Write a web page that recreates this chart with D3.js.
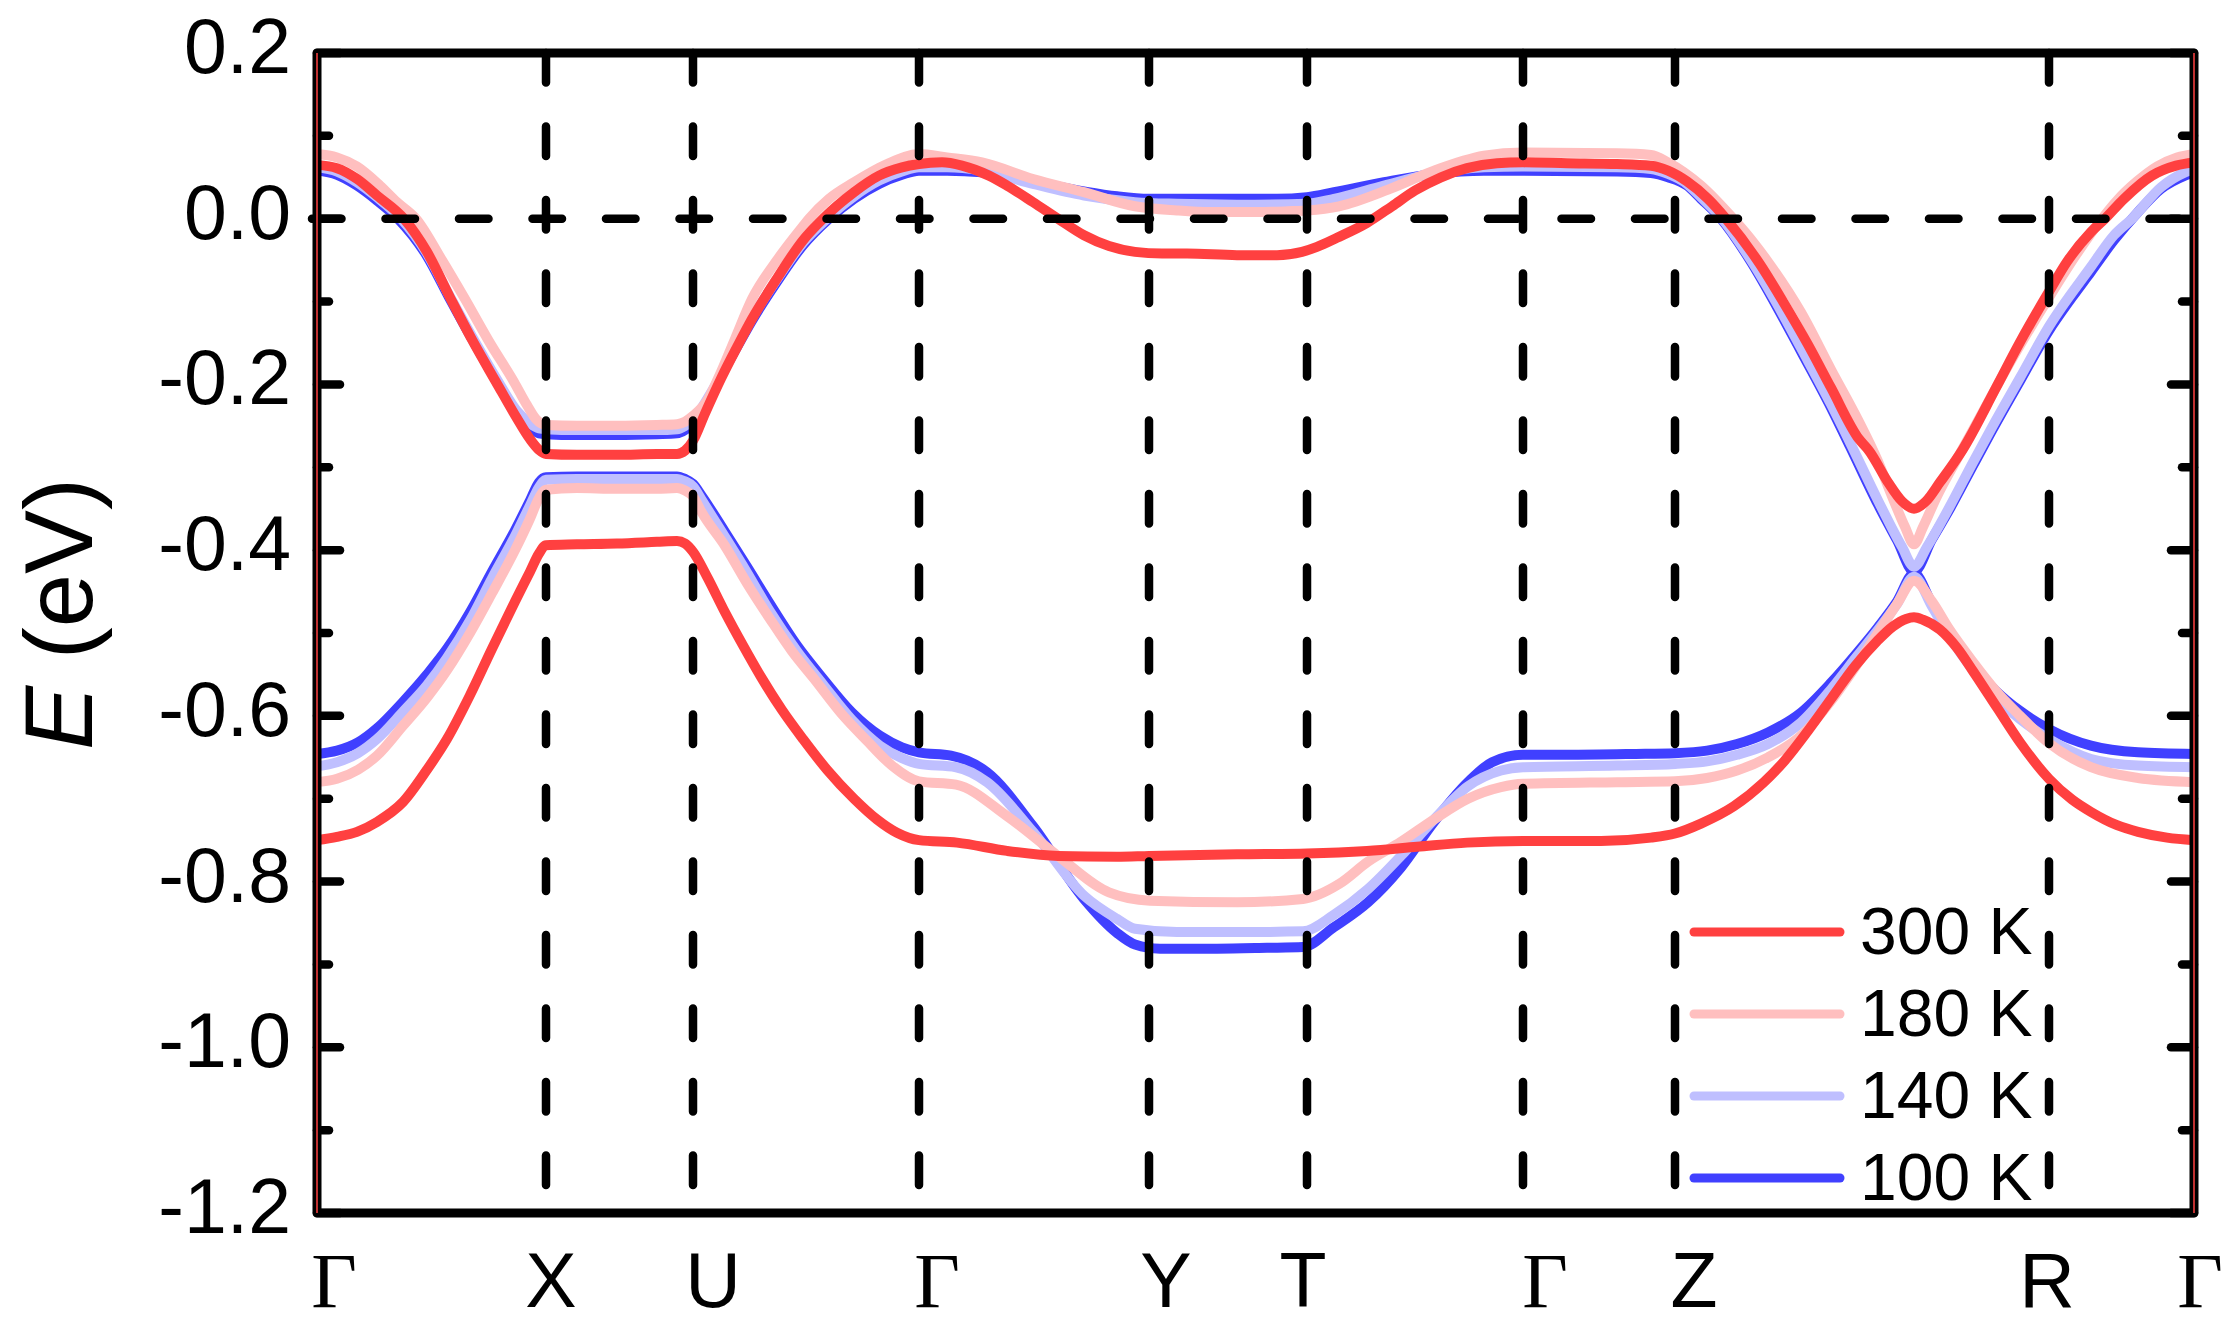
<!DOCTYPE html>
<html><head><meta charset="utf-8">
<script src="https://cdn.jsdelivr.net/npm/d3@7"></script>
<style>html,body{margin:0;padding:0;background:#fff}svg{display:block}</style>
</head><body>
<svg id="chart" width="2239" height="1340"></svg>
<script>
// ---------------- data ----------------
const kPoints = [0, 0.229, 0.376, 0.602, 0.832, 0.990, 1.206, 1.358, 1.732, 1.877];
const kLabels = ["Γ", "X", "U", "Γ", "Y", "T", "Γ", "Z", "R", "Γ"];
const yTicks = [0.2, 0.0, -0.2, -0.4, -0.6, -0.8, -1.0, -1.2];
const yTickLabels = ["0.2", "0.0", "-0.2", "-0.4", "-0.6", "-0.8", "-1.0", "-1.2"];
const yMinorTicks = [0.1, -0.1, -0.3, -0.5, -0.7, -0.9, -1.1];
const seriesNames = ["300 K", "180 K", "140 K", "100 K"];

// [k, E (eV)] – 300 K
const upper300 = [[0,0.065],[0.02,0.061],[0.04,0.048],[0.06,0.028],[0.087,0.0],[0.11,-0.040],[0.133,-0.095],[0.155,-0.146],[0.179,-0.197],[0.20,-0.241],[0.213,-0.266],[0.222,-0.279],[0.229,-0.284],[0.26,-0.285],[0.30,-0.285],[0.34,-0.284],[0.36,-0.284],[0.368,-0.280],[0.376,-0.268],[0.388,-0.235],[0.404,-0.193],[0.42,-0.155],[0.435,-0.121],[0.46,-0.072],[0.486,-0.026],[0.506,0.0],[0.537,0.032],[0.562,0.052],[0.585,0.062],[0.602,0.066],[0.625,0.068],[0.645,0.064],[0.672,0.052],[0.69,0.040],[0.716,0.020],[0.741,0.0],[0.767,-0.020],[0.792,-0.033],[0.818,-0.040],[0.845,-0.042],[0.87,-0.042],[0.92,-0.044],[0.96,-0.044],[0.985,-0.040],[1.0,-0.034],[1.02,-0.023],[1.05,-0.005],[1.075,0.015],[1.098,0.034],[1.124,0.050],[1.15,0.061],[1.18,0.067],[1.206,0.068],[1.25,0.067],[1.30,0.066],[1.334,0.064],[1.351,0.058],[1.37,0.045],[1.391,0.024],[1.409,0.0],[1.443,-0.055],[1.467,-0.102],[1.491,-0.152],[1.514,-0.204],[1.542,-0.266],[1.552,-0.280],[1.571,-0.318],[1.585,-0.341],[1.597,-0.350],[1.609,-0.341],[1.623,-0.318],[1.646,-0.278],[1.679,-0.204],[1.703,-0.149],[1.732,-0.088],[1.75,-0.052],[1.774,-0.016],[1.788,0.0],[1.807,0.024],[1.835,0.052],[1.859,0.064],[1.877,0.068]];
const lower300 = [[0,-0.750],[0.02,-0.746],[0.04,-0.740],[0.06,-0.728],[0.086,-0.704],[0.11,-0.665],[0.13,-0.628],[0.153,-0.575],[0.175,-0.519],[0.198,-0.462],[0.213,-0.426],[0.222,-0.404],[0.229,-0.394],[0.26,-0.393],[0.30,-0.392],[0.34,-0.390],[0.36,-0.389],[0.368,-0.392],[0.376,-0.402],[0.39,-0.432],[0.408,-0.475],[0.426,-0.515],[0.444,-0.553],[0.465,-0.593],[0.486,-0.628],[0.51,-0.665],[0.537,-0.700],[0.56,-0.725],[0.58,-0.741],[0.602,-0.750],[0.64,-0.753],[0.69,-0.763],[0.741,-0.769],[0.80,-0.770],[0.832,-0.769],[0.92,-0.767],[0.99,-0.766],[1.05,-0.763],[1.10,-0.758],[1.15,-0.753],[1.206,-0.751],[1.284,-0.751],[1.334,-0.747],[1.358,-0.742],[1.384,-0.730],[1.417,-0.709],[1.447,-0.680],[1.467,-0.655],[1.491,-0.618],[1.515,-0.578],[1.538,-0.540],[1.56,-0.510],[1.576,-0.492],[1.589,-0.483],[1.597,-0.481],[1.606,-0.484],[1.623,-0.496],[1.64,-0.518],[1.656,-0.546],[1.68,-0.590],[1.703,-0.632],[1.732,-0.676],[1.755,-0.701],[1.774,-0.716],[1.80,-0.732],[1.821,-0.740],[1.85,-0.747],[1.877,-0.750]];

// 180 K
const upper180 = [[0,0.078],[0.02,0.074],[0.04,0.063],[0.063,0.040],[0.08,0.020],[0.099,0.0],[0.125,-0.050],[0.148,-0.097],[0.172,-0.148],[0.197,-0.197],[0.21,-0.225],[0.219,-0.242],[0.229,-0.249],[0.26,-0.250],[0.30,-0.250],[0.34,-0.249],[0.36,-0.248],[0.368,-0.245],[0.376,-0.238],[0.39,-0.220],[0.401,-0.193],[0.418,-0.145],[0.435,-0.097],[0.46,-0.050],[0.486,-0.009],[0.492,0.0],[0.512,0.024],[0.537,0.044],[0.57,0.066],[0.602,0.078],[0.63,0.074],[0.665,0.068],[0.716,0.048],[0.767,0.032],[0.818,0.015],[0.86,0.010],[0.894,0.008],[0.94,0.008],[0.971,0.009],[0.99,0.010],[1.022,0.015],[1.073,0.036],[1.117,0.058],[1.167,0.076],[1.206,0.080],[1.30,0.079],[1.334,0.077],[1.351,0.068],[1.384,0.040],[1.414,0.003],[1.434,-0.025],[1.451,-0.052],[1.484,-0.113],[1.514,-0.182],[1.542,-0.245],[1.56,-0.290],[1.575,-0.335],[1.588,-0.372],[1.597,-0.393],[1.606,-0.372],[1.62,-0.335],[1.64,-0.290],[1.665,-0.235],[1.69,-0.180],[1.732,-0.095],[1.76,-0.042],[1.785,0.0],[1.80,0.022],[1.82,0.045],[1.84,0.063],[1.86,0.074],[1.877,0.078]];
const lower180 = [[0,-0.680],[0.02,-0.676],[0.041,-0.665],[0.06,-0.648],[0.086,-0.612],[0.11,-0.578],[0.13,-0.545],[0.153,-0.500],[0.175,-0.452],[0.198,-0.400],[0.213,-0.362],[0.222,-0.337],[0.229,-0.327],[0.26,-0.325],[0.30,-0.326],[0.34,-0.326],[0.36,-0.325],[0.368,-0.328],[0.376,-0.335],[0.385,-0.355],[0.408,-0.395],[0.43,-0.440],[0.453,-0.483],[0.475,-0.522],[0.497,-0.555],[0.525,-0.598],[0.55,-0.630],[0.575,-0.660],[0.602,-0.679],[0.639,-0.683],[0.69,-0.721],[0.741,-0.769],[0.792,-0.813],[0.833,-0.823],[0.92,-0.825],[0.986,-0.821],[1.022,-0.803],[1.051,-0.776],[1.084,-0.752],[1.117,-0.725],[1.151,-0.700],[1.184,-0.686],[1.206,-0.682],[1.30,-0.680],[1.358,-0.679],[1.39,-0.675],[1.42,-0.666],[1.451,-0.650],[1.484,-0.624],[1.514,-0.582],[1.54,-0.538],[1.561,-0.500],[1.58,-0.465],[1.597,-0.437],[1.615,-0.462],[1.632,-0.495],[1.656,-0.535],[1.679,-0.570],[1.703,-0.600],[1.732,-0.633],[1.774,-0.662],[1.821,-0.675],[1.877,-0.680]];

// 140 K
const upper140 = [[0,0.062],[0.02,0.057],[0.04,0.044],[0.06,0.026],[0.084,0.0],[0.11,-0.042],[0.133,-0.094],[0.155,-0.142],[0.179,-0.192],[0.20,-0.232],[0.213,-0.247],[0.222,-0.253],[0.229,-0.254],[0.26,-0.255],[0.30,-0.255],[0.34,-0.255],[0.36,-0.254],[0.368,-0.250],[0.376,-0.243],[0.388,-0.222],[0.404,-0.189],[0.42,-0.153],[0.435,-0.120],[0.46,-0.073],[0.486,-0.029],[0.51,0.0],[0.537,0.027],[0.562,0.046],[0.585,0.057],[0.602,0.062],[0.63,0.062],[0.665,0.058],[0.716,0.042],[0.767,0.028],[0.818,0.020],[0.86,0.018],[0.92,0.017],[0.99,0.018],[1.017,0.024],[1.067,0.040],[1.117,0.055],[1.167,0.062],[1.206,0.063],[1.30,0.062],[1.334,0.060],[1.351,0.054],[1.37,0.042],[1.384,0.026],[1.405,0.0],[1.434,-0.050],[1.467,-0.118],[1.484,-0.156],[1.514,-0.224],[1.533,-0.270],[1.561,-0.340],[1.585,-0.396],[1.597,-0.420],[1.61,-0.396],[1.632,-0.349],[1.656,-0.294],[1.674,-0.254],[1.703,-0.192],[1.732,-0.130],[1.774,-0.058],[1.797,-0.020],[1.815,0.0],[1.844,0.038],[1.868,0.056],[1.877,0.060]];
const lower140 = [[0,-0.661],[0.02,-0.656],[0.041,-0.645],[0.06,-0.628],[0.086,-0.595],[0.11,-0.563],[0.13,-0.530],[0.153,-0.485],[0.175,-0.434],[0.198,-0.383],[0.213,-0.346],[0.222,-0.324],[0.229,-0.315],[0.26,-0.314],[0.30,-0.314],[0.34,-0.314],[0.36,-0.314],[0.368,-0.317],[0.376,-0.323],[0.385,-0.340],[0.408,-0.384],[0.43,-0.427],[0.453,-0.474],[0.48,-0.522],[0.506,-0.562],[0.535,-0.605],[0.563,-0.636],[0.585,-0.651],[0.602,-0.658],[0.639,-0.662],[0.67,-0.680],[0.716,-0.740],[0.767,-0.817],[0.80,-0.845],[0.818,-0.857],[0.86,-0.861],[0.92,-0.861],[0.986,-0.860],[1.017,-0.840],[1.051,-0.809],[1.084,-0.769],[1.117,-0.725],[1.151,-0.685],[1.184,-0.666],[1.206,-0.662],[1.30,-0.660],[1.358,-0.658],[1.39,-0.655],[1.42,-0.647],[1.451,-0.634],[1.484,-0.608],[1.514,-0.568],[1.54,-0.528],[1.561,-0.496],[1.58,-0.465],[1.597,-0.432],[1.615,-0.468],[1.632,-0.503],[1.656,-0.545],[1.679,-0.578],[1.703,-0.604],[1.732,-0.628],[1.774,-0.652],[1.821,-0.660],[1.877,-0.662]];

// 100 K
const upper100 = [[0,0.058],[0.02,0.053],[0.04,0.040],[0.06,0.022],[0.081,0.0],[0.11,-0.045],[0.133,-0.097],[0.155,-0.145],[0.179,-0.195],[0.20,-0.236],[0.213,-0.252],[0.222,-0.259],[0.229,-0.260],[0.26,-0.261],[0.30,-0.261],[0.34,-0.260],[0.36,-0.259],[0.368,-0.255],[0.376,-0.247],[0.388,-0.225],[0.404,-0.190],[0.42,-0.155],[0.435,-0.123],[0.46,-0.076],[0.486,-0.032],[0.512,0.0],[0.537,0.024],[0.562,0.042],[0.585,0.053],[0.602,0.058],[0.63,0.058],[0.665,0.056],[0.69,0.051],[0.716,0.045],[0.767,0.033],[0.80,0.027],[0.832,0.024],[0.90,0.024],[0.96,0.024],[0.99,0.026],[1.017,0.032],[1.067,0.044],[1.117,0.054],[1.167,0.058],[1.206,0.058],[1.30,0.057],[1.334,0.055],[1.351,0.050],[1.37,0.040],[1.384,0.024],[1.404,0.0],[1.434,-0.052],[1.467,-0.122],[1.484,-0.160],[1.514,-0.228],[1.533,-0.275],[1.561,-0.345],[1.58,-0.388],[1.597,-0.426],[1.615,-0.387],[1.632,-0.352],[1.656,-0.298],[1.674,-0.258],[1.703,-0.196],[1.732,-0.135],[1.755,-0.095],[1.774,-0.064],[1.797,-0.026],[1.821,0.008],[1.844,0.036],[1.868,0.052],[1.877,0.056]];
const lower100 = [[0,-0.646],[0.02,-0.642],[0.041,-0.632],[0.06,-0.615],[0.086,-0.583],[0.11,-0.550],[0.13,-0.519],[0.153,-0.475],[0.175,-0.426],[0.198,-0.376],[0.213,-0.340],[0.222,-0.318],[0.229,-0.312],[0.26,-0.311],[0.30,-0.311],[0.34,-0.311],[0.36,-0.311],[0.368,-0.314],[0.376,-0.320],[0.385,-0.335],[0.408,-0.378],[0.43,-0.420],[0.453,-0.465],[0.48,-0.515],[0.506,-0.555],[0.535,-0.596],[0.563,-0.624],[0.585,-0.638],[0.602,-0.644],[0.634,-0.648],[0.67,-0.668],[0.716,-0.733],[0.767,-0.821],[0.80,-0.862],[0.818,-0.876],[0.843,-0.881],[0.90,-0.881],[0.95,-0.880],[0.986,-0.879],[1.017,-0.855],[1.051,-0.825],[1.084,-0.783],[1.117,-0.728],[1.151,-0.680],[1.175,-0.656],[1.206,-0.647],[1.25,-0.647],[1.317,-0.646],[1.358,-0.645],[1.39,-0.642],[1.42,-0.634],[1.451,-0.620],[1.484,-0.596],[1.514,-0.560],[1.54,-0.524],[1.561,-0.493],[1.58,-0.462],[1.597,-0.428],[1.615,-0.465],[1.632,-0.500],[1.656,-0.540],[1.679,-0.570],[1.703,-0.594],[1.732,-0.616],[1.774,-0.636],[1.821,-0.644],[1.877,-0.646]];

// ---------------- layout / style ----------------
const colors = {"300 K": "#FF4040", "180 K": "#FFBFBF", "140 K": "#BFBFFF", "100 K": "#4040FF"};
const bands = {"300 K": [upper300, lower300], "180 K": [upper180, lower180], "140 K": [upper140, lower140], "100 K": [upper100, lower100]};
const labelDx = [17, 5, 20, 18, 17, -4, 22, 19, -2, 6];
const L = 317, R = 2194, T = 53, B = 1213;
const SANS = "'Liberation Sans', Arial, Helvetica, sans-serif";
const SERIF = "'Liberation Serif', 'Times New Roman', serif";

const svg = d3.select("#chart");
svg.append("rect").attr("width", 2239).attr("height", 1340).attr("fill", "#fff");

const x = d3.scaleLinear().domain([kPoints[0], kPoints[kPoints.length - 1]]).range([L, R]);
const y = d3.scaleLinear().domain([-1.2, 0.2]).range([B, T]);

const line = d3.line().x(d => x(d[0])).y(d => y(d[1])).curve(d3.curveMonotoneX);

// bands: draw coldest first so 300 K is on top
const drawOrder = seriesNames.slice().reverse();
const gData = svg.append("g");
drawOrder.forEach(name => {
  bands[name].forEach(b => {
    gData.append("path").attr("d", line(b))
      .attr("fill", "none").attr("stroke", colors[name])
      .attr("stroke-width", 10).attr("stroke-linejoin", "round");
  });
});

// dashed guide lines
const gDash = svg.append("g").attr("stroke", "#000").attr("stroke-width", 8.5)
  .attr("stroke-linecap", "round").attr("stroke-dasharray", "29.5 44").attr("fill", "none");
kPoints.slice(1, -1).forEach(k => {
  gDash.append("line").attr("x1", x(k)).attr("x2", x(k)).attr("y1", T).attr("y2", B);
});
gDash.append("line").attr("x1", L - 5).attr("x2", R).attr("y1", y(0)).attr("y2", y(0));

// frame
svg.append("rect").attr("x", L).attr("y", T).attr("width", R - L).attr("height", B - T)
  .attr("fill", "none").attr("stroke", "#000").attr("stroke-width", 9).attr("stroke-linejoin", "round");

// ticks (inward, both sides)
const gTicks = svg.append("g").attr("stroke", "#000").attr("stroke-width", 8.5).attr("stroke-linecap", "round");
yTicks.forEach(v => {
  gTicks.append("line").attr("x1", L).attr("x2", L + 23).attr("y1", y(v)).attr("y2", y(v));
  gTicks.append("line").attr("x1", R).attr("x2", R - 23).attr("y1", y(v)).attr("y2", y(v));
});
yMinorTicks.forEach(v => {
  gTicks.append("line").attr("x1", L).attr("x2", L + 12).attr("y1", y(v)).attr("y2", y(v));
  gTicks.append("line").attr("x1", R).attr("x2", R - 12).attr("y1", y(v)).attr("y2", y(v));
});

// thin 300 K edge traces on the frame
[kPoints[0], kPoints[kPoints.length - 1]].forEach(k => {
  svg.append("line").attr("x1", x(k)).attr("x2", x(k)).attr("y1", T).attr("y2", B)
    .attr("stroke", colors["300 K"]).attr("stroke-width", 1.5);
});

// y tick labels
svg.append("g").selectAll("text").data(yTicks).join("text")
  .attr("x", 291).attr("y", d => y(d) + 20)
  .attr("text-anchor", "end").attr("font-family", SANS).attr("font-size", 77)
  .attr("fill", "#000").text((d, i) => yTickLabels[i]);

// x labels
svg.append("g").selectAll("text").data(kPoints).join("text")
  .attr("x", (d, i) => x(d) + labelDx[i]).attr("y", 1307)
  .attr("text-anchor", "middle")
  .attr("font-family", (d, i) => kLabels[i] === "Γ" ? SERIF : SANS)
  .attr("font-size", (d, i) => kLabels[i] === "Γ" ? 79 : 77)
  .attr("fill", "#000").text((d, i) => kLabels[i]);

// y axis title
const yt = svg.append("text").attr("transform", "translate(92,614) rotate(-90)")
  .attr("text-anchor", "middle").attr("font-family", SANS).attr("font-size", 96).attr("fill", "#000");
yt.append("tspan").attr("font-style", "italic").text("E");
yt.append("tspan").text(" (eV)");

// legend
const gLeg = svg.append("g");
seriesNames.forEach((name, i) => {
  const ly = 932 + 82 * i;
  gLeg.append("line").attr("x1", 1694).attr("x2", 1840).attr("y1", ly).attr("y2", ly)
    .attr("stroke", colors[name]).attr("stroke-width", 9).attr("stroke-linecap", "round");
  gLeg.append("text").attr("x", 1860).attr("y", ly + 22)
    .attr("font-family", SANS).attr("font-size", 66).attr("fill", "#000").text(name);
});
</script>
</body></html>
